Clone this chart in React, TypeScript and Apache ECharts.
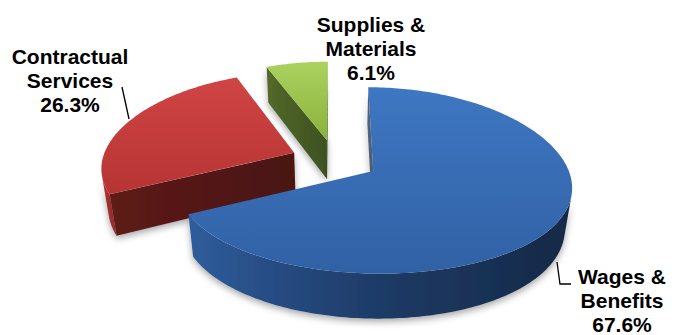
import { useEffect, useRef } from 'react';
import * as echarts from 'echarts';

// ---- data ----
const categories = ['Wages & Benefits', 'Contractual Services', 'Supplies & Materials'];
const values = [67.6, 26.3, 6.1];

// ---- layout (px) ----
const labelAnchors: [number, number][] = [[622, 300.5], [70, 80.5], [371, 48.3]];

const CX = 335;
const CY = 160;
const KX = 192;
const KY = 90;
const PX = 0.15;
const PY = 0.1;
const PB = 0.03;
const THICK = 40;
const EXPLODE = 0.23;

type P = [number, number];

const PALETTE = [
  {
    top: ['#3e77c2', '#3161a5'],
    wall: [[0, '#2f5d9c'], [0.28, '#25487d'], [0.5, '#1e3b66'], [1, '#152846']],
    start: ['#56657c', '#4a5a72'],
    end: ['#1d3a63', '#1d3a63'],
  },
  {
    top: ['#d04444', '#b73434'],
    wall: [[0, '#a52e2e'], [1, '#b63636']],
    start: ['#5d1b18', '#4a1411'],
    end: ['#5d1b18', '#4a1411'],
  },
  {
    top: ['#abd15f', '#8ab23a'],
    wall: [[0, '#6f8f2f'], [1, '#6f8f2f']],
    start: ['#53692a', '#3d501f'],
    end: ['#53692a', '#3d501f'],
  },
];

function proj(x: number, z: number, bottom: boolean): P {
  const sx = 1 / (1 + PX * z + (bottom ? PB : 0));
  const sy = 1 / (1 + PY * z);
  return [CX + KX * x * sx, CY - KY * z * sy + (bottom ? THICK * sy : 0)];
}

function area(pts: P[]) {
  let s = 0;
  for (let i = 0; i < pts.length; i++) {
    const a = pts[i];
    const b = pts[(i + 1) % pts.length];
    s += a[0] * b[1] - b[0] * a[1];
  }
  return s / 2;
}

const total = values.reduce((a, b) => a + b, 0);

function anglesOf(i: number, v: number): [number, number] {
  let c = 0;
  for (let k = 0; k < i; k++) c += values[k];
  return [(c / total) * Math.PI * 2, ((c + v) / total) * Math.PI * 2];
}

function apexOf(i: number, v: number): [number, number] {
  const [a0, a1] = anglesOf(i, v);
  const m = (a0 + a1) / 2;
  return [EXPLODE * Math.sin(m), EXPLODE * Math.cos(m)];
}

const drawOrder = values
  .map((_, i) => i)
  .sort((a, b) => {
    const pa = apexOf(a, values[a]);
    const pb = apexOf(b, values[b]);
    return proj(pa[0], pa[1], false)[1] - proj(pb[0], pb[1], false)[1];
  });

function hGrad(c: string[]) {
  return { type: 'linear', x: 0, y: 0, x2: 1, y2: 0, colorStops: [{ offset: 0, color: c[0] }, { offset: 1, color: c[1] }] };
}
function vGrad(c: string[]) {
  return { type: 'linear', x: 0, y: 0, x2: 0, y2: 1, colorStops: [{ offset: 0, color: c[0] }, { offset: 1, color: c[1] }] };
}
function stopsGrad(s: any[]) {
  return { type: 'linear', x: 0, y: 0, x2: 1, y2: 0, colorStops: s.map((t) => ({ offset: t[0], color: t[1] })) };
}

function renderSlice(params: any, api: any) {
  const i = params.dataIndex;
  const v = api.value(1);
  const [a0, a1] = anglesOf(i, v);
  const [ox, oz] = apexOf(i, v);
  const pal = PALETTE[i % PALETTE.length];
  const z = drawOrder.indexOf(i) * 10;
  const n = Math.max(6, Math.ceil((a1 - a0) / (Math.PI / 180)));
  const top: P[] = [];
  const bot: P[] = [];
  for (let k = 0; k <= n; k++) {
    const t = a0 + ((a1 - a0) * k) / n;
    top.push(proj(ox + Math.sin(t), oz + Math.cos(t), false));
    bot.push(proj(ox + Math.sin(t), oz + Math.cos(t), true));
  }
  const apT = proj(ox, oz, false);
  const apB = proj(ox, oz, true);
  const shadow = { shadowBlur: 7, shadowColor: 'rgba(0,0,0,0.35)', shadowOffsetY: 3 };
  const poly = (pts: P[], fill: any, z2: number, sh: boolean) => ({
    type: 'polygon',
    shape: { points: pts },
    style: Object.assign({ fill }, sh ? shadow : {}),
    z2,
  });
  const children: any[] = [];
  const sf: P[] = [apT, top[0], bot[0], apB];
  if (area(sf) < -0.5) children.push(poly(sf, hGrad(pal.start), z + 2, true));
  const ef: P[] = [top[n], apT, apB, bot[n]];
  if (area(ef) < -0.5) children.push(poly(ef, hGrad(pal.end), z + 2, true));
  const segVis = (k: number) => area([top[k], top[k + 1], bot[k + 1], bot[k]]) < 0;
  let k = 0;
  while (k < n) {
    if (segVis(k)) {
      let e = k;
      while (e + 1 < n && segVis(e + 1)) e++;
      const pts: P[] = [...top.slice(k, e + 2), ...bot.slice(k, e + 2).reverse()];
      children.push(poly(pts, stopsGrad(pal.wall), z + 1, true));
      k = e + 1;
    } else k++;
  }
  children.push(poly([apT, ...top], vGrad(pal.top), z + 5, false));
  return { type: 'group', children };
}

function splitName(s: string) {
  const p = s.lastIndexOf(' ');
  return p > 0 ? s.slice(0, p) + '\n' + s.slice(p + 1) : s;
}

export default function App() {
  const ref = useRef<HTMLDivElement>(null);
  useEffect(() => {
    if (!ref.current) return;
    const chart = echarts.init(ref.current, undefined, { renderer: 'svg' });
    const font = 'bold 21px "Liberation Sans", Arial, Helvetica, sans-serif';
    chart.setOption({
      animation: false,
      backgroundColor: '#ffffff',
      series: [
        {
          type: 'custom',
          coordinateSystem: 'none',
          silent: true,
          renderItem: renderSlice,
          data: values.map((v, i) => ({ name: categories[i], value: [i, v] })),
        },
      ],
      graphic: [
        ...categories.map((c, i) => ({
          type: 'text',
          x: labelAnchors[i][0],
          y: labelAnchors[i][1],
          z: 10,
          style: {
            text: splitName(c) + '\n' + values[i].toFixed(1) + '%',
            font,
            fill: '#000',
            align: 'center',
            verticalAlign: 'middle',
            textAlign: 'center',
            textVerticalAlign: 'middle',
            lineHeight: 24,
          },
        })),
        { type: 'line', z: 10, shape: { x1: 122, y1: 87, x2: 129, y2: 119 }, style: { stroke: '#000', lineWidth: 1.3 } },
        {
          type: 'polyline',
          z: 10,
          shape: { points: [[557, 262], [560, 284], [571, 284]] },
          style: { stroke: '#000', lineWidth: 1.3, fill: null },
        },
      ],
    });
    return () => chart.dispose();
  }, []);
  return <div ref={ref} style={{ position: 'absolute', left: 0, top: 0, width: 680, height: 335 }} />;
}
